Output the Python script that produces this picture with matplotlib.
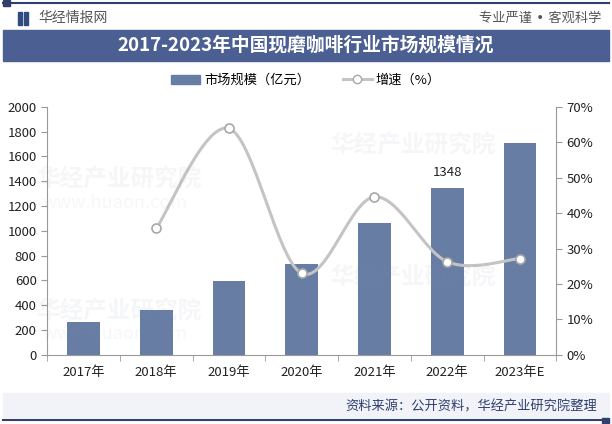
import numpy as np
import matplotlib.pyplot as plt
from matplotlib.patches import Rectangle
from matplotlib.lines import Line2D

plt.rcParams['font.family'] = ['Noto Sans CJK SC', 'DejaVu Sans']

# --- DATA ---
years = ['2017年', '2018年', '2019年', '2020年', '2021年', '2022年', '2023年E']
market_size = [268, 362, 596, 733, 1063, 1348, 1710]          # 亿元
growth = [None, 35.7, 63.9, 23.0, 44.6, 26.3, 27.2]           # %
left_ticks = [0, 200, 400, 600, 800, 1000, 1200, 1400, 1600, 1800, 2000]
right_ticks = [0, 10, 20, 30, 40, 50, 60, 70]

bar_color = '#687da4'
band_color = '#4b5f93'
line_color = '#c4c4c4'


def smooth(xs, ys, n=30):
    """Catmull-Rom style smoothing like office charts"""
    xs = np.asarray(xs, float)
    ys = np.asarray(ys, float)
    px, py = [], []
    for i in range(len(xs) - 1):
        x0, y0 = (xs[i - 1], ys[i - 1]) if i > 0 else (xs[i], ys[i])
        x3, y3 = (xs[i + 2], ys[i + 2]) if i + 2 < len(xs) else (xs[i + 1], ys[i + 1])
        x1, y1, x2, y2 = xs[i], ys[i], xs[i + 1], ys[i + 1]
        c1x, c1y = x1 + (x2 - x0) / 6, y1 + (y2 - y0) / 6
        c2x, c2y = x2 - (x3 - x1) / 6, y2 - (y3 - y1) / 6
        t = np.linspace(0, 1, n)
        bx = (1 - t) ** 3 * x1 + 3 * (1 - t) ** 2 * t * c1x + 3 * (1 - t) * t ** 2 * c2x + t ** 3 * x2
        by = (1 - t) ** 3 * y1 + 3 * (1 - t) ** 2 * t * c1y + 3 * (1 - t) * t ** 2 * c2y + t ** 3 * y2
        px.extend(bx)
        py.extend(by)
    return px, py


fig = plt.figure(figsize=(6.12, 4.24), dpi=100)
fig.patch.set_facecolor('white')

# --- header / footer decoration ---
fig.add_artist(Line2D([0.005, 0.995], [0.993, 0.993], color='#2f3f6e', lw=1.5))
fig.add_artist(Rectangle((0.005, 0.987), 0.012, 0.012, color='#2f3f6e'))
fig.add_artist(Rectangle((0.03, 0.942), 0.006, 0.03, color='#2f4b80'))
fig.add_artist(Rectangle((0.040, 0.942), 0.006, 0.03, color='#2f4b80'))
fig.text(0.062, 0.958, '华经情报网', fontsize=10, color='#555555', va='center')
fig.text(0.982, 0.958, '专业严谨 • 客观科学', fontsize=9.5, color='#555555', va='center', ha='right',
         family=['DejaVu Sans', 'Noto Sans CJK SC'])
fig.add_artist(Rectangle((0.005, 0.855), 0.99, 0.075, color=band_color))
fig.text(0.5, 0.893, '2017-2023年中国现磨咖啡行业市场规模情况', fontsize=13.5, color='white',
         fontweight='bold', ha='center', va='center')

fig.add_artist(Rectangle((0.005, 0.017), 0.99, 0.057, color='#f1f3f8'))
fig.add_artist(Line2D([0.005, 0.995], [0.009, 0.009], color='#2f3f6e', lw=1.5))
fig.add_artist(Rectangle((0.983, 0.003), 0.012, 0.012, color='#2f3f6e'))
fig.text(0.975, 0.040, '资料来源：公开资料，华经产业研究院整理', fontsize=9.5, color='#2f3f6e',
         ha='right', va='center')

# faint watermarks
for (wx, wy) in [(0.06, 0.56), (0.06, 0.25), (0.54, 0.64), (0.54, 0.33)]:
    fig.text(wx, wy, '华经产业研究院', fontsize=17, color='#8090b0', alpha=0.08,
             fontweight='bold', zorder=5)
for (wx, wy) in [(0.07, 0.51), (0.07, 0.20)]:
    fig.text(wx, wy, 'www.huaon.com', fontsize=13, color='#8090b0', alpha=0.07, zorder=5)

# --- main axes ---
ax = fig.add_axes([0.077, 0.163, 0.832, 0.585])
ax.patch.set_alpha(0)
x = np.arange(len(years))
ax.bar(x, market_size, width=0.45, color=bar_color, zorder=2)
ax.set_xlim(-0.5, len(years) - 0.5)
ax.set_ylim(0, 2000)
ax.set_yticks(left_ticks)
ax.set_xticks(x)
ax.set_xticklabels(years)
ax.set_xticks(np.arange(-0.5, len(years)), minor=True)
ax.tick_params(axis='x', which='major', length=0, pad=8, labelsize=9.5, colors='#222222')
ax.tick_params(axis='x', which='minor', length=4, color='#999999')
ax.tick_params(axis='y', length=4, color='#999999', labelsize=9.5, labelcolor='#222222')
for s in ['top', 'right']:
    ax.spines[s].set_visible(False)
for s in ['left', 'bottom']:
    ax.spines[s].set_color('#999999')

ax.annotate(str(market_size[5]), (x[5], market_size[5]), xytext=(0, 6), textcoords='offset points',
            ha='center', va='bottom', fontsize=9.5, color='#222222')

ax2 = ax.twinx()
ax2.set_ylim(0, 70)
ax2.set_yticks(right_ticks)
ax2.set_yticklabels([f'{t}%' for t in right_ticks])
ax2.tick_params(axis='y', length=4, color='#999999', labelsize=9.5, labelcolor='#222222')
for s in ['top', 'left', 'bottom']:
    ax2.spines[s].set_visible(False)
ax2.spines['right'].set_color('#999999')

gx = [xi for xi, g in zip(x, growth) if g is not None]
gy = [g for g in growth if g is not None]
sx, sy = smooth(gx, gy)
ax2.plot(sx, sy, color=line_color, lw=2.2, zorder=3)
ax2.plot(gx, gy, 'o', markersize=6.5, markerfacecolor='white', markeredgecolor='#a8a8a8',
         markeredgewidth=1.2, zorder=4)

# legend
handles = [Rectangle((0, 0), 1, 1, color=bar_color),
           Line2D([], [], color=line_color, lw=2.2, marker='o', markersize=6,
                  markerfacecolor='white', markeredgecolor='#a8a8a8')]
fig.legend(handles, ['市场规模（亿元）', '增速（%）'], loc='center', bbox_to_anchor=(0.5, 0.81),
           ncol=2, frameon=False, fontsize=9.5, handlelength=2.2, columnspacing=2.5,
           handletextpad=0.3)

fig.savefig('out.png', dpi=100)
